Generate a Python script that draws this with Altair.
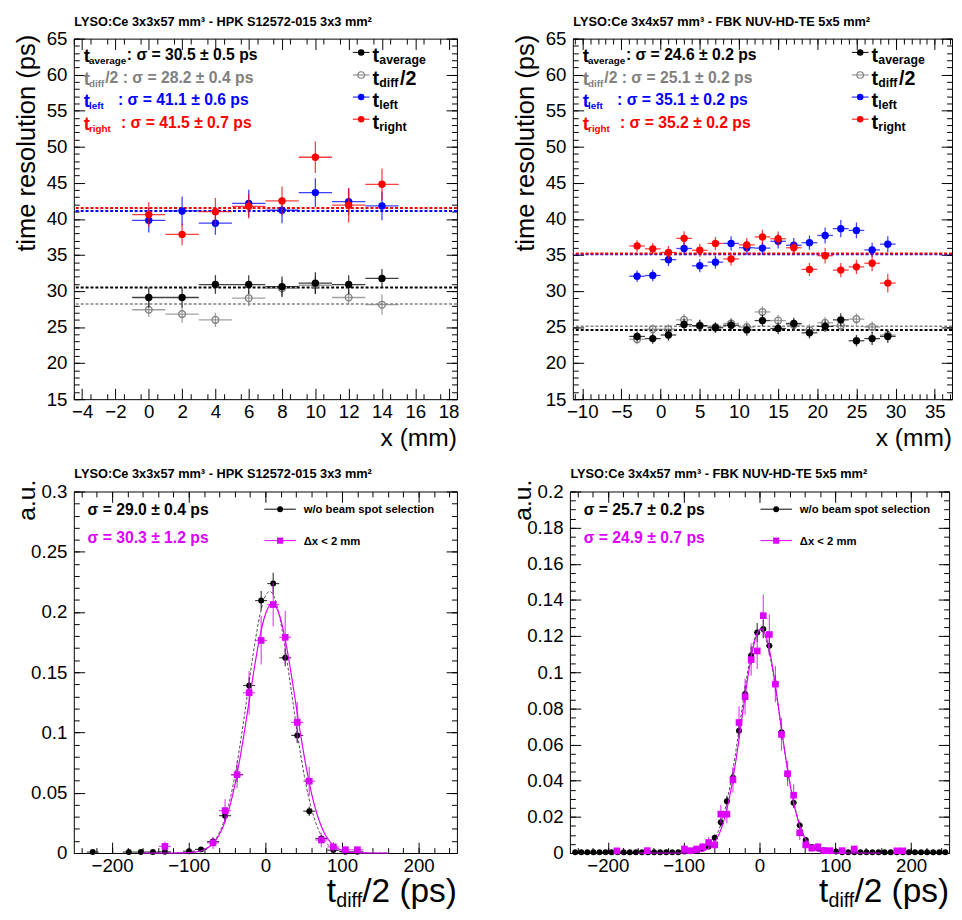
import altair as alt
import pandas as pd

FONT = "Liberation Sans"
BLACK, GRAY, BLUE, RED, MAG = "#000000", "#808080", "#0000ff", "#ff0000", "#dd00ff"

# ---------------- top-left : HPK, resolution vs x ----------------
hpk_x = [0, 2, 4, 6, 8, 10, 12, 14]
hpk_xerr = [1, 1, 1, 1, 1, 1, 1, 1]
hpk_avg = [29.1, 29.1, 30.9, 30.9, 30.6, 31.1, 30.9, 31.75]
hpk_avg_err = [1.4, 1.4, 1.3, 1.3, 1.4, 1.5, 1.3, 1.3]
hpk_diff = [27.4, 26.8, 26.0, 29.0, 30.35, 30.8, 29.1, 28.1]
hpk_diff_err = [1.0, 1.2, 1.0, 1.1, 1.2, 1.2, 1.0, 1.4]
hpk_left = [39.8, 41.1, 39.4, 42.15, 41.2, 43.65, 42.4, 41.8]
hpk_left_err = [1.7, 2.0, 1.6, 1.9, 1.8, 2.0, 1.8, 2.0]
hpk_right = [40.6, 37.85, 41.0, 41.75, 42.5, 48.55, 41.9, 44.8]
hpk_right_err = [1.7, 1.5, 1.9, 1.7, 2.0, 2.2, 2.4, 2.2]
hpk_sigma = [30.5, 28.2, 41.1, 41.5]
hpk_sigma_err = [0.5, 0.4, 0.6, 0.7]

# ---------------- top-right : FBK, resolution vs x ----------------
fbk_x = [-3, -1, 1, 3, 5, 7, 9, 11, 13, 15, 17, 19, 21, 23, 25, 27, 29]
fbk_xerr = [1] * 17
fbk_avg = [23.7, 23.4, 23.9, 25.35, 25.2, 24.9, 25.25, 24.6, 25.9, 24.8, 25.5, 24.2, 25.1, 26.0, 23.1, 23.4, 23.7]
fbk_avg_err = [0.7, 0.7, 0.8, 0.8, 0.8, 0.7, 0.8, 0.8, 0.8, 0.8, 0.8, 0.8, 0.8, 0.9, 0.8, 0.9, 0.9]
fbk_diff = [23.3, 24.7, 24.7, 26.0, 25.2, 25.0, 25.5, 25.0, 27.1, 25.9, 25.3, 24.6, 25.6, 25.2, 26.1, 25.0, 23.9]
fbk_diff_err = [0.7, 0.7, 0.7, 0.8, 0.8, 0.7, 0.8, 0.8, 0.8, 0.8, 0.8, 0.8, 0.8, 0.8, 0.8, 0.8, 0.8]
fbk_left = [32.05, 32.15, 34.35, 35.9, 33.5, 34.0, 36.6, 36.0, 35.95, 36.9, 36.35, 36.7, 37.7, 38.65, 38.4, 35.7, 36.5]
fbk_left_err = [0.8, 0.8, 0.9, 0.9, 0.9, 0.9, 1.0, 1.0, 0.9, 1.0, 1.0, 1.0, 1.1, 1.2, 1.1, 1.0, 1.1]
fbk_right = [36.25, 35.85, 35.35, 37.3, 35.65, 36.6, 34.45, 36.4, 37.5, 37.25, 36.0, 33.0, 34.9, 32.9, 33.35, 33.85, 31.1]
fbk_right_err = [0.8, 0.8, 0.9, 1.0, 0.9, 0.9, 0.9, 1.0, 1.0, 1.0, 0.9, 0.9, 1.1, 1.0, 1.0, 1.1, 1.3]
fbk_sigma = [24.6, 25.1, 35.1, 35.2]
fbk_sigma_err = [0.2, 0.2, 0.2, 0.2]

# ---------------- bottom-left : HPK t_diff/2 distribution ----------------
hb_x = [-225.3, -178.2, -162.5, -146.8, -131.1, -99.7, -84.0, -68.3, -52.6, -36.9,
        -21.2, -5.5, 10.2, 25.9, 41.6, 57.3, 73.0, 88.7, 104.4, 120.1]
hb_y = [0.0008, 0.0008, 0.0008, 0.0008, 0.001, 0.0015, 0.003, 0.0095, 0.031, 0.065,
        0.139, 0.2095, 0.2236, 0.162, 0.0976, 0.0347, 0.012, 0.0024, 0.001, 0.001]
hb_err = [0.0008, 0.0008, 0.0008, 0.0008, 0.001, 0.0012, 0.0018, 0.003, 0.005, 0.006,
          0.007, 0.008, 0.009, 0.007, 0.006, 0.004, 0.003, 0.0015, 0.001, 0.001]
hm_x = [-131.1, -68.3, -52.6, -36.9, -21.2, -5.5, 10.2, 25.9, 41.6, 57.3, 73.0, 88.7, 104.4, 120.1]
hm_y = [0.0055, 0.0084, 0.0352, 0.065, 0.133, 0.1764, 0.2062, 0.179, 0.1084, 0.0596,
        0.0108, 0.0051, 0.0027, 0.0027]
hm_err = [0.004, 0.005, 0.0095, 0.011, 0.018, 0.02, 0.018, 0.022, 0.017, 0.012,
          0.006, 0.004, 0.003, 0.003]
hpk_bin_half = 7.85
hpk_fit_black = [0.217, 5.5, 29.0]   # amplitude, mean, sigma
hpk_fit_mag = [0.207, 9.0, 30.3]
hpk_hist_sigma = [(29.0, 0.4), (30.3, 1.2)]

# ---------------- bottom-right : FBK t_diff/2 distribution ----------------
fb_x = [-243, -235, -227, -219, -211, -203, -195, -187, -179, -171, -163, -155, -147, -139,
        -131, -123, -115, -107, -99, -91, -83, -75, -67, -59, -51, -43, -35, -27, -19, -11,
        -3, 5, 13, 21, 29, 37, 45, 53, 61, 69, 77, 85, 93, 101, 109, 117, 125, 133, 141, 149,
        157, 165, 173, 181, 189, 197, 205, 213, 221, 229, 237, 245]
fb_y = [0.0004, 0.0004, 0.0004, 0.0004, 0.0004, 0.0004, 0.0004, 0.0004, 0.0004, 0.0004,
        0.0004, 0.0004, 0.0004, 0.0004, 0.0004, 0.0004, 0.0004, 0.0004,
        0.0008, 0.001, 0.0015, 0.0025, 0.0036, 0.0085, 0.017, 0.0287, 0.0416, 0.0676, 0.088,
        0.1093, 0.122, 0.124, 0.1147, 0.0938, 0.0668, 0.0435, 0.0278, 0.0153, 0.0072, 0.0034,
        0.0025, 0.0015, 0.001, 0.0008,
        0.0004, 0.0004, 0.0004, 0.0004, 0.0004, 0.0004, 0.0004, 0.0004, 0.0004, 0.0004,
        0.0004, 0.0004, 0.0004, 0.0004, 0.0004, 0.0004, 0.0004, 0.0004]
fb_err = [0.0004, 0.0004, 0.0004, 0.0004, 0.0004, 0.0004, 0.0004, 0.0004, 0.0004, 0.0004,
          0.0004, 0.0004, 0.0004, 0.0004, 0.0004, 0.0004, 0.0004, 0.0004,
          0.0006, 0.0007, 0.0008, 0.001, 0.0012, 0.0018, 0.0025, 0.003, 0.0035, 0.004, 0.0045,
          0.005, 0.0052, 0.0052, 0.005, 0.0045, 0.004, 0.0035, 0.003, 0.0022, 0.0016, 0.0012,
          0.001, 0.0008, 0.0007, 0.0006,
          0.0004, 0.0004, 0.0004, 0.0004, 0.0004, 0.0004, 0.0004, 0.0004, 0.0004, 0.0004,
          0.0004, 0.0004, 0.0004, 0.0004, 0.0004, 0.0004, 0.0004, 0.0004]
fm_x = [-188, -148, -99, -91, -83, -75, -67, -59, -51, -43, -35, -27, -19, -11, -3, 5, 13, 21,
        29, 37, 45, 53, 61, 69, 77, 85, 93, 109, 125, 181, 189]
fm_y = [0.0012, 0.0013, 0.0022, 0.0013, 0.0022, 0.0034, 0.0058, 0.0045, 0.0215, 0.0215,
        0.0405, 0.0722, 0.0865, 0.107, 0.1118, 0.1313, 0.1209, 0.0934, 0.0656, 0.0439, 0.032,
        0.0112, 0.0045, 0.0027, 0.0034, 0.0013, 0.0013, 0.0013, 0.0022, 0.0012, 0.0012]
fm_err = [0.0012, 0.0013, 0.0018, 0.0013, 0.0018, 0.0022, 0.003, 0.0027, 0.005, 0.005,
          0.007, 0.009, 0.01, 0.009, 0.01, 0.0117, 0.011, 0.01, 0.009, 0.007, 0.006, 0.004,
          0.0027, 0.002, 0.0022, 0.0013, 0.0013, 0.0013, 0.0018, 0.0012, 0.0012]
fbk_bin_half = 4.0
fbk_fit_black = [0.1235, 1.0, 25.7]
fbk_fit_mag = [0.124, 2.0, 24.9]
fbk_hist_sigma = [(25.7, 0.2), (24.9, 0.7)]

# ---------------- titles / ticks ----------------
title_hpk = "LYSO:Ce 3x3x57 mm³ - HPK S12572-015 3x3 mm²"
title_fbk = "LYSO:Ce 3x4x57 mm³ - FBK NUV-HD-TE 5x5 mm²"
tl_xmaj = [-4, -2, 0, 2, 4, 6, 8, 10, 12, 14, 16, 18]
tl_xmin = [v / 2 for v in range(-9, 38)]
tr_xmaj = [-10, -5, 0, 5, 10, 15, 20, 25, 30, 35]
tr_xmin = list(range(-11, 38))
t_ymaj = [15, 20, 25, 30, 35, 40, 45, 50, 55, 60, 65]
t_ymin = list(range(15, 66))
b_xmaj = [-200, -100, 0, 100, 200]
b_xmin = list(range(-240, 241, 20))
bl_ymaj = [0, 0.05, 0.1, 0.15, 0.2, 0.25, 0.3]
bl_ymin = [i / 100 for i in range(0, 31)]
br_ymaj = [0, 0.02, 0.04, 0.06, 0.08, 0.1, 0.12, 0.14, 0.16, 0.18, 0.2]
br_ymin = [i / 200 for i in range(0, 41)]

ONE = alt.Data(values=[{"k": 0}])
W_L, W_R, H_T, H_B = 390, 386, 367, 368


def text(x, y, s, size, color=BLACK, weight="bold", align="left", angle=0):
    return alt.Chart(ONE).mark_text(
        font=FONT, fontSize=size, fontWeight=weight, color=color,
        align=align, baseline="alphabetic", angle=angle
    ).encode(x=alt.value(x), y=alt.value(y), text=alt.value(s))


def axis_layers(xs, ys, xdom, ydom, xmaj, xmin, ymaj, ymin, xfmt, yfmt):
    df = alt.Data(values=[{"x": xdom[0], "y": ydom[0]}])
    common = dict(domain=False, grid=False, title=None, tickColor=BLACK, tickWidth=1,
                  labelFont=FONT, labelFontSize=19, labelColor=BLACK,
                  labelFlush=False, labelOverlap=False)
    specs = [("bottom", "left", xmaj, ymaj, 11, True),
             ("bottom", "left", xmin, ymin, 5.5, False),
             ("top", "right", xmaj, ymaj, 11, False),
             ("top", "right", xmin, ymin, 5.5, False)]
    out = []
    for xo, yo, xv, yv, ts, lab in specs:
        xa = alt.Axis(orient=xo, values=xv, tickSize=ts, offset=-ts, labels=lab,
                      format=xfmt, labelPadding=4, **common)
        ya = alt.Axis(orient=yo, values=yv, tickSize=ts, offset=-ts, labels=lab,
                      format=yfmt, labelPadding=7, **common)
        out.append(alt.Chart(df).mark_point(opacity=0).encode(
            x=alt.X("x:Q", scale=xs, axis=xa), y=alt.Y("y:Q", scale=ys, axis=ya)))
    return out


def series(x, xerr, y, yerr, xs, ys, color, filled=True, size=56, shape="circle", sw=1.3):
    df = pd.DataFrame({
        "x": x, "y": y,
        "xlo": [a - b for a, b in zip(x, xerr)], "xhi": [a + b for a, b in zip(x, xerr)],
        "ylo": [a - b for a, b in zip(y, yerr)], "yhi": [a + b for a, b in zip(y, yerr)],
    })
    v = alt.Chart(df).mark_rule(color=color, strokeWidth=sw, opacity=0.75).encode(
        x=alt.X("x:Q", scale=xs, axis=None), y=alt.Y("ylo:Q", scale=ys, axis=None), y2="yhi:Q")
    h = alt.Chart(df).mark_rule(color=color, strokeWidth=sw, opacity=0.75).encode(
        x=alt.X("xlo:Q", scale=xs, axis=None), x2="xhi:Q", y=alt.Y("y:Q", scale=ys, axis=None))
    p = alt.Chart(df).mark_point(shape=shape, filled=filled, size=size, color=color,
                                 opacity=1, strokeWidth=1.3).encode(
        x=alt.X("x:Q", scale=xs, axis=None), y=alt.Y("y:Q", scale=ys, axis=None))
    return [v, h, p]


def hline(val, ys, color, width=2):
    return alt.Chart(alt.Data(values=[{"v": val}])).mark_rule(
        color=color, strokeWidth=width, strokeDash=[3, 2]).encode(
        y=alt.Y("v:Q", scale=ys, axis=None))


def gauss(par, xs, ys, color, dash):
    a, mu, sg = par
    ch = alt.Chart(alt.sequence(-160, 160.5, 1, as_="t")).transform_calculate(
        v=f"{a}*exp(-pow(datum.t-({mu}),2)/(2*{sg}*{sg}))")
    kw = dict(color=color, strokeWidth=1.2 if not dash else 1.0)
    if dash:
        kw["strokeDash"] = [3, 2]
    return ch.mark_line(**kw).encode(x=alt.X("t:Q", scale=xs, axis=None),
                                     y=alt.Y("v:Q", scale=ys, axis=None))


def top_panel(W, title, xdom, xmaj, xmin, data, sig, sigerr):
    xs = alt.Scale(domain=xdom, nice=False, zero=False)
    ys = alt.Scale(domain=[15, 65], nice=False, zero=False)
    x, xerr, avg, avge, dif, dife, lef, lefe, rig, rige = data
    L = axis_layers(xs, ys, xdom, [15, 65], xmaj, xmin, t_ymaj, t_ymin, "d", "d")
    L += [hline(sig[1], ys, GRAY, 1.5), hline(sig[0], ys, BLACK, 2),
          hline(sig[2], ys, BLUE, 2), hline(sig[3], ys, RED, 2)]
    L += series(x, xerr, dif, dife, xs, ys, GRAY, filled=False, size=48)
    L += series(x, xerr, avg, avge, xs, ys, BLACK)
    L += series(x, xerr, lef, lefe, xs, ys, BLUE)
    L += series(x, xerr, rig, rige, xs, ys, RED)
    # stats text
    colors = [BLACK, GRAY, BLUE, RED]
    subs = ["average", "diff", "left", "right"]
    pre = ["", "/2 ", "", ""]
    rest_x = [54, 32, 45, 48]
    base = [22, 45, 68, 91]
    for i in range(4):
        L.append(text(10, base[i] + 2, "t", 19, colors[i]))
        L.append(text(15.5, base[i] + 4, subs[i], 10, colors[i]))
        L.append(text(rest_x[i], base[i],
                      f"{pre[i]}: σ = {sig[i]:.1f} ± {sigerr[i]:.1f} ps", 16, colors[i]))
    # legend
    ly = [14, 37, 59.5, 82]
    filled = [True, False, True, True]
    for i in range(4):
        L.append(alt.Chart(ONE).mark_rule(color=colors[i], strokeWidth=1).encode(
            x=alt.value(284), x2=alt.value(301), y=alt.value(ly[i])))
        L.append(alt.Chart(ONE).mark_point(shape="circle", filled=filled[i], color=colors[i],
                                           size=44, opacity=1, strokeWidth=1.2).encode(
            x=alt.value(292.5), y=alt.value(ly[i])))
        L.append(text(304, ly[i] + 10, "t", 20, BLACK))
        L.append(text(311, ly[i] + 12, subs[i], 12.5, BLACK))
    L.append(text(332, ly[1] + 10, "/2", 20, BLACK))
    # titles
    L.append(text(0.5, -12.5, title, 13, BLACK))
    L.append(text(-40, -4, "time resolution (ps)", 26, BLACK, weight="normal",
                  align="right", angle=270))
    L.append(text(W, H_T + 48, "x (mm)", 25, BLACK, weight="normal", align="right"))
    return alt.layer(*L).properties(width=W, height=H_T).resolve_axis(
        x="independent", y="independent")


def bottom_panel(W, title, ydom, ymaj, ymin, bx, by, be, half, mx, my, me,
                 fit_b, fit_m, sig):
    xs = alt.Scale(domain=[-250, 250], nice=False, zero=False)
    ys = alt.Scale(domain=ydom, nice=False, zero=False)
    L = axis_layers(xs, ys, [-250, 250], ydom, b_xmaj, b_xmin, ymaj, ymin, "d", "~g")
    L.append(gauss(fit_b, xs, ys, "#444444", True))
    L += series(bx, [half] * len(bx), by, be, xs, ys, BLACK, size=36, sw=1.2)
    L += series(mx, [half] * len(mx), my, me, xs, ys, MAG, size=46, shape="square", sw=1.2)
    L.append(gauss(fit_m, xs, ys, MAG, False))
    L.append(text(14, 24, f"σ = {sig[0][0]:.1f} ± {sig[0][1]:.1f} ps", 16, BLACK))
    L.append(text(14, 52, f"σ = {sig[1][0]:.1f} ± {sig[1][1]:.1f} ps", 16, MAG))
    L.append(alt.Chart(ONE).mark_rule(color=BLACK, strokeWidth=1).encode(
        x=alt.value(194), x2=alt.value(226), y=alt.value(18)))
    L.append(alt.Chart(ONE).mark_point(shape="circle", filled=True, color=BLACK, size=36,
                                       opacity=1).encode(x=alt.value(210), y=alt.value(18)))
    L.append(alt.Chart(ONE).mark_rule(color=MAG, strokeWidth=1).encode(
        x=alt.value(194), x2=alt.value(226), y=alt.value(50)))
    L.append(alt.Chart(ONE).mark_point(shape="square", filled=True, color=MAG, size=40,
                                       opacity=1).encode(x=alt.value(210), y=alt.value(50)))
    L.append(text(234, 22, "w/o beam spot selection", 11.5, BLACK))
    L.append(text(234, 54, "Δx < 2 mm", 11.5, BLACK))
    L.append(text(0.5, -13.5, title, 13, BLACK))
    L.append(text(-40, -12, "a.u.", 25, BLACK, weight="normal", align="right", angle=270))
    L.append(text(W, H_B + 50, "/2 (ps)", 34, BLACK, weight="normal", align="right"))
    L.append(text(W - 96.5, H_B + 55, "diff", 20, BLACK, weight="normal", align="right"))
    L.append(text(W - 123, H_B + 50, "t", 34, BLACK, weight="normal", align="right"))
    return alt.layer(*L).properties(width=W, height=H_B).resolve_axis(
        x="independent", y="independent")


tl = top_panel(W_L, title_hpk, [-4.5, 18.5], tl_xmaj, tl_xmin,
               [hpk_x, hpk_xerr, hpk_avg, hpk_avg_err, hpk_diff, hpk_diff_err,
                hpk_left, hpk_left_err, hpk_right, hpk_right_err], hpk_sigma, hpk_sigma_err)
tr = top_panel(W_R, title_fbk, [-11.2, 37.2], tr_xmaj, tr_xmin,
               [fbk_x, fbk_xerr, fbk_avg, fbk_avg_err, fbk_diff, fbk_diff_err,
                fbk_left, fbk_left_err, fbk_right, fbk_right_err], fbk_sigma, fbk_sigma_err)
bl = bottom_panel(W_L, title_hpk, [0, 0.3], bl_ymaj, bl_ymin, hb_x, hb_y, hb_err,
                  hpk_bin_half, hm_x, hm_y, hm_err, hpk_fit_black, hpk_fit_mag, hpk_hist_sigma)
br = bottom_panel(W_R, title_fbk, [0, 0.2], br_ymaj, br_ymin, fb_x, fb_y, fb_err,
                  fbk_bin_half, fm_x, fm_y, fm_err, fbk_fit_black, fbk_fit_mag, fbk_hist_sigma)

chart = alt.vconcat(
    alt.hconcat(tl, tr, spacing=53),
    alt.hconcat(bl, br, spacing=53),
    spacing=16,
).properties(
    padding={"left": 5, "top": 0, "right": 0, "bottom": 0}
).configure(font=FONT, background="white").configure_view(stroke=BLACK, strokeWidth=1)

chart.save("out.html", embed_options={"renderer": "svg", "actions": False})
